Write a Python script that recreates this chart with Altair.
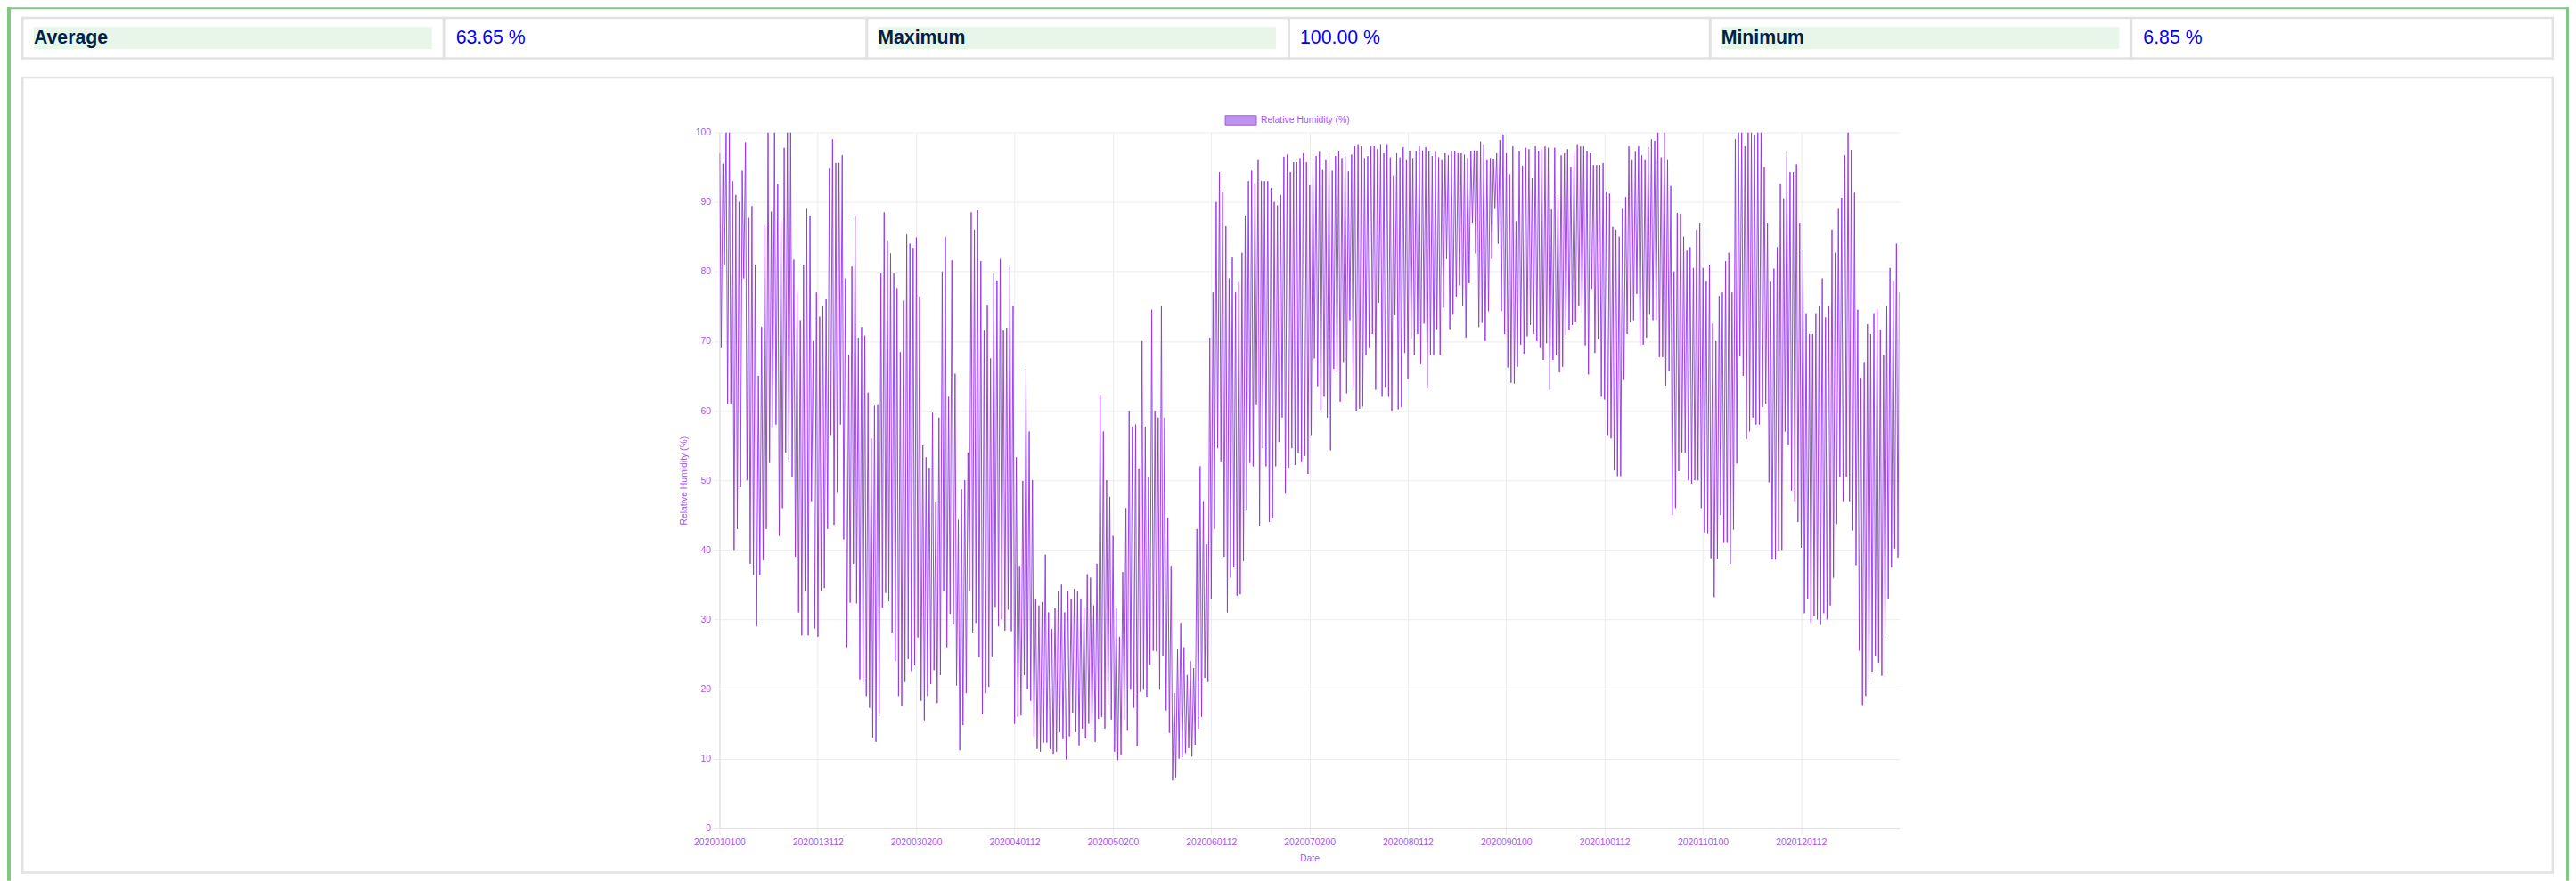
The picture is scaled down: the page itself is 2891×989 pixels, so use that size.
import altair as alt

# Daily humidity highs, in date order
day_high = [
97,95.5,100,100,93,91,90,94.5,98.6,87.7,89.4,81,65,72,86.6,100,88.6,100,92.6,87.3,97.8,100,100,81.7,77,73,81,89,88,
70,77,73.5,75,76,94.8,99,95.6,95.6,96.7,79,68,80.7,88,70.5,72,70.8,62.6,56,60.7,60.8,79.7,88.5,84.5,82.6,79.7,77.6,68.4,75.8,85.3,
84,83.4,84.9,76.4,55,53.3,51.8,59.7,46.8,59,80,85,62,81.6,65.3,44.3,48.7,50,54,88.5,86,88.8,81.5,71.5,75.2,67.5,79.7,78.7,81.8,71.5,
71.9,81,75,53.3,37.7,49.9,66,57,50,33,32,32.5,39.3,31,28.6,31.6,34,35,31,34,33,34.4,34,33,31.7,36.5,36,32,38,62.3,
57,50,47.6,42,31.6,27.5,36.8,46,60,57.7,58,51.7,70,57.7,50.4,74.5,60,59,75,59,44.6,37.7,19.4,25.8,29.5,26,22,24,23,43,
52,47,40.8,70.5,77,90,94.3,91.5,86.5,79,82,77,78.5,82.7,88,93,94.5,92.7,96,93,93,93,92,90,89.5,91,96.5,96.8,94.3,95.7,
95.7,96.3,97,95.7,92.4,95.5,96.6,97.2,94.6,96,97,94.5,96.6,97.3,96.3,96.6,94.4,96.8,98,98.2,98,96.3,96.6,98,98,97.6,98.2,97,98.2,96.4,
93.7,97,96.4,97.9,96,97.4,96.3,97.3,98,97.4,97.9,97.3,96.6,97.2,96.4,96,97,96.7,97.3,97.3,97,97,96.8,96.3,97.3,97.4,97.4,98.7,98.2,96,
96.3,96.2,97,98.9,99.7,97,94,98,87.2,97.3,95.2,97.8,97.6,93.4,98,97.3,97.6,98,97.8,88.9,97.8,90.6,96.7,97,97.6,95,97,98.2,98,98,
97.3,97,95.3,95.3,95.3,95.6,91.5,91.2,86.4,86,85,89,90.7,98,96,97.2,98,96.7,96,97.9,99,98.8,100,96.4,100,96,92.3,80,88.4,88.3,
85,83,83.5,80.5,86,87,80.5,78.6,81,72.5,70,76.5,77,81.5,82.7,77,99,100,100,98,100,100,99.6,100,100,95,87,78.5,80.4,83.5,
92.6,90.5,97.2,94.3,94.3,95.4,87,83,74,71,71,74,75,79,73.4,75,86,82.7,89,90.6,96.7,100,97.5,91.3,74.5,64.7,67,72.4,71,74,
74.5,71.6,68,75,80.5,78.6,84,77,
]

# Daily humidity lows, in date order
day_low = [
69,81,61,61,40,43,49,79,50,38,36.4,29,36.4,38.5,43,52.5,57.6,58,42,46,54,52.6,50.4,39,31,27.7,34,27.7,47,28.7,27.5,
34,34.5,43,56.5,43.6,48.3,58,41.5,26,32.4,38,32.3,21.4,21,19,17.3,13,12.4,16.5,31.7,33.8,32.6,28,24,19,17.6,21,24.3,22.6,23.4,27.4,
18.3,15.5,19,20.7,22.7,18,22,34,26,30.8,29.3,20.5,11.2,14.8,19.4,34,28,29.5,24.6,16.4,19.4,20.3,24.7,31.8,29,30,28.4,31.4,28.3,15,
16,16.2,22,20,18.3,13.2,11.4,11,12.3,12.3,11.4,10.7,11,13.8,12.8,9.9,13.2,16.6,13.8,11.9,14.3,12.9,15,14.3,12.4,15.7,16,14.3,17.7,15.6,
11,9.8,10.5,15.6,14,19.9,17.3,11.8,19.6,19.9,18.8,23.5,25.5,25.4,19.9,24.8,16.9,13.7,6.85,7.3,10,10.2,10.8,11.5,10.3,12,14.3,16,21.6,21,
33,43,54.6,52.6,39,31,36,37.5,33.4,33.6,38.4,45.8,52.5,52,60.8,43.4,54.6,52,44,44.5,52,55.5,59,48.2,51.8,54.6,52.2,54,52.6,53.5,
50.9,56.5,67.5,63.5,60,62,59,54.3,66,65.5,61.3,67,62.5,73,63.3,60,60.3,60.6,68,69,71,63,75.5,62,63.3,62,60,73.7,60.2,60.5,
68.3,64.5,70.4,68,71,66.7,72.5,63.2,68,68,71.7,68,74.8,81.8,71.7,73.8,76.4,78,75,70.5,78.3,87,82.6,72,72.6,70,74.3,81.8,89,84,
74.3,71,66.2,64,63.9,66.3,69.5,68.2,70.7,72.3,71,70,69,67.3,69.7,63,67.3,68,65.5,66.3,70.8,71.6,72.3,72.8,75,74,69.4,65.2,77.5,68.3,
70.3,62,61.6,56.5,56,51.4,50.6,50.6,64.4,71,72.7,73,76.8,69.4,69.5,70.5,73.8,73,73,67.7,67.7,63.6,65.7,45,46,51.3,54,54,50,49.5,
50,50,46,42.5,42.4,38.8,33.2,38.7,45,41,41,38,42.9,52.4,67.8,65,55.9,57,59,58,58,60.5,61,49.7,38.6,38.6,39.9,40,57,55,
48.5,47,44,40.3,30.9,33,29.5,30.5,30,29.2,30.9,30,32,36,43.7,50.5,47,50.5,47,42.8,37.8,25.5,17.7,19,21,22.5,24.8,23.8,21.9,27,
33,37.5,40.2,38.9,
]

tick_hours = [0, 732, 1464, 2196, 2928, 3660, 4392, 5124, 5856, 6588, 7320, 8052]
tick_labels = ["2020010100","2020013112","2020030200","2020040112","2020050200","2020060112",
               "2020070200","2020080112","2020090100","2020100112","2020110100","2020120112"]

stat_names = ["Average", "Maximum", "Minimum"]
stat_values = ["63.65 %", "100.00 %", "6.85 %"]

FONT = "Liberation Sans"
PURPLE = "#a855f7"
LINE = "#9333ea"
GRAY = "#e2e2e2"
GREEN = "#81c784"
OX, OY = 808, 148.3
PW, PH = 1325, 781.7
LAST_HOUR = 8783

rows = []
for k, (hi, lo) in enumerate(zip(day_high, day_low)):
    rows.append({"hour": 2 + 24 * k, "rh": hi})
    rows.append({"hour": 13 + 24 * k, "rh": lo})
rows.append({"hour": LAST_HOUR, "rh": day_high[-1]})

one = alt.Data(values=[{"a": 1}])

def box(x0, y0, x1, y1, fill, **kw):
    return alt.Chart(one).mark_rect(fill=fill, **kw).encode(
        x=alt.value(x0 - OX), x2=alt.value(x1 - OX),
        y=alt.value(y0 - OY), y2=alt.value(y1 - OY))

def label(x, y, s, size, color, weight="normal"):
    return alt.Chart(one).mark_text(align="left", baseline="alphabetic", font=FONT,
                                    fontSize=size, color=color, fontWeight=weight).encode(
        x=alt.value(x - OX), y=alt.value(y - OY), text=alt.value(s))

deco = [
    box(8, 8, 2885, 10, GREEN),
    box(8, 8, 12, 989, GREEN),
    box(2882, 8, 2885, 989, GREEN),
    # stats table frame
    box(24, 18.5, 2868, 21, GRAY),
    box(24, 64, 2868, 66.5, GRAY),
    box(24, 18.5, 26.5, 66.5, GRAY),
    box(2865.5, 18.5, 2868, 66.5, GRAY),
]
for sx in (497, 972, 1446, 1919, 2392):
    deco.append(box(sx, 18.5, sx + 3, 66.5, GRAY))
# chart panel frame
deco += [
    box(24, 85.5, 2868, 88, GRAY),
    box(24, 978.5, 2868, 981, GRAY),
    box(24, 85.5, 26.5, 981, GRAY),
    box(2865.5, 85.5, 2868, 981, GRAY),
]
for cell_x, name, val_x, val in zip((38, 986, 1933), stat_names, (512, 1460, 2407), stat_values):
    deco.append(box(cell_x, 30, cell_x + 447, 55, "#e8f5e9"))
    deco.append(label(cell_x, 48.5, name, 21.3, "#002147", "bold"))
    deco.append(label(val_x, 49, val, 21.3, "#0000ff"))

# legend
deco.append(box(1376, 129.5, 1411, 140, "#c094ee", stroke=PURPLE, strokeWidth=1))
deco.append(label(1416, 137.7, "Relative Humidity (%)", 10.4, PURPLE))

label_expr = "[" + ",".join(f"'{t}'" for t in tick_labels) + "][round(datum.value/732)]"

line = alt.Chart(alt.Data(values=rows)).mark_line(
    color=LINE, strokeWidth=1, opacity=0.9, clip=True, interpolate="linear"
).encode(
    x=alt.X("hour:Q", scale=alt.Scale(domain=[0, LAST_HOUR], nice=False, zero=False),
            axis=alt.Axis(values=tick_hours, labelExpr=label_expr, title="Date",
                          labelOverlap=False, labelFlush=False, labelPadding=4, titlePadding=7)),
    y=alt.Y("rh:Q", scale=alt.Scale(domain=[0, 100], nice=False),
            axis=alt.Axis(values=list(range(0, 101, 10)), title="Relative Humidity (%)",
                          labelPadding=3, titlePadding=8)),
)

chart = alt.layer(*deco, line).properties(
    width=PW, height=PH,
    padding={"left": 800, "top": 140.3, "right": 752, "bottom": 59},
    autosize=alt.AutoSizeParams(type="none"),
    background="white",
).configure_view(stroke=None).configure_axis(
    labelFont=FONT, titleFont=FONT, labelFontSize=10.4, titleFontSize=10.4,
    labelColor=PURPLE, titleColor=PURPLE, titleFontWeight="normal",
    gridColor="#ececec", gridWidth=1, tickColor="#ececec", tickSize=7,
    domainColor="#dddddd", domainWidth=1,
)

chart.save("out.html", embed_options={"renderer": "svg", "actions": False})
